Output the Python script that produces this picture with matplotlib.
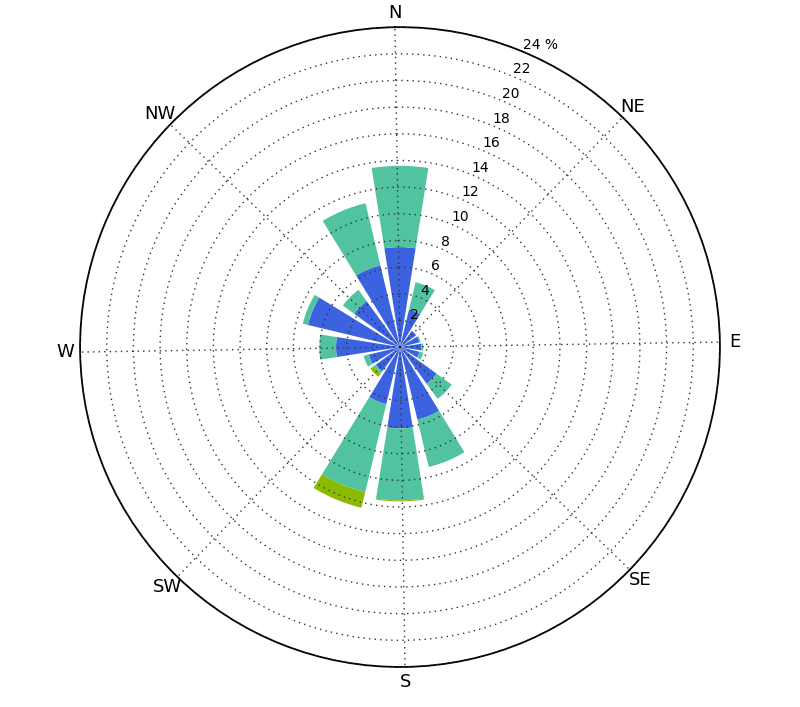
import numpy as np
import matplotlib
matplotlib.use('Agg')
import matplotlib.pyplot as plt

# 16 wind directions, clockwise from north
directions = ['N', 'NNE', 'NE', 'ENE', 'E', 'ESE', 'SE', 'SSE',
              'S', 'SSW', 'SW', 'WSW', 'W', 'WNW', 'NW', 'NNW']
# frequency (%) per speed class, stacked
speed_low = [7.5, 2.9, 1.5, 1.5, 1.6, 1.5, 3.4, 5.6,
             6.1, 4.4, 2.25, 2.4, 4.8, 7.1, 4.25, 6.3]
speed_mid = [6.1, 2.1, 0.0, 0.1, 0.15, 0.3, 1.4, 3.65,
             5.4, 6.8, 0.2, 0.4, 1.25, 0.4, 1.05, 4.8]
speed_high = [0, 0, 0, 0, 0, 0, 0, 0,
              0.08, 1.2, 0.3, 0, 0, 0, 0, 0]
colors = ['#3b63e0', '#52c3a1', '#8cba00']

compass_labels = ['N', 'NE', 'E', 'SE', 'S', 'SW', 'W', 'NW']
r_ticks = list(range(2, 25, 2))
r_labels = [str(v) for v in r_ticks[:-1]] + ['24 %']

# grid is turned a little, bars are not
tilt = 0.9
theta = np.deg2rad(np.arange(len(directions)) * 22.5 + tilt)
width = np.deg2rad(22.5 * 0.8)

fig = plt.figure(figsize=(8, 7.07), dpi=100)
ax = fig.add_axes([0.1, 0.0566, 0.8, 0.905], projection='polar')
ax.set_theta_direction(-1)
ax.set_theta_offset(np.pi / 2 + np.deg2rad(tilt))

bottom = np.zeros(len(directions))
for vals, c in zip([speed_low, speed_mid, speed_high], colors):
    vals = np.array(vals)
    ax.bar(theta, vals, width=width, bottom=bottom, color=c,
           edgecolor='none', zorder=2)
    bottom += vals

ax.set_ylim(0, 24)
ax.set_rgrids(r_ticks, labels=r_labels, fontsize=10)
ax.set_rlabel_position(23.5)
ax.set_thetagrids(range(0, 360, 45), labels=compass_labels, fontsize=13)
ax.tick_params(axis='x', pad=0)
ax.grid(True, color='#333333', linestyle=(0, (1, 3)), linewidth=1.0, zorder=3)
ax.set_axisbelow(False)
ax.spines['polar'].set_linewidth(1.3)

fig.savefig('out.png', dpi=100)
